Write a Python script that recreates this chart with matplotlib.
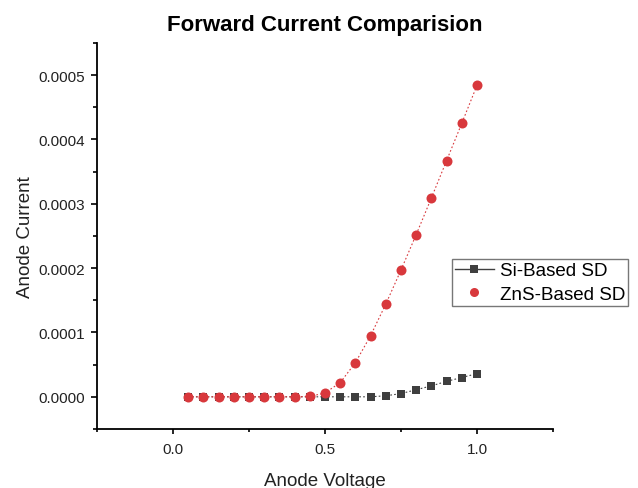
import matplotlib
matplotlib.use("Agg")
import matplotlib.pyplot as plt
from matplotlib.lines import Line2D
from matplotlib.ticker import MultipleLocator, FormatStrFormatter

plt.rcParams['font.family'] = ['Liberation Sans', 'DejaVu Sans']

voltage = [0.05, 0.10, 0.15, 0.20, 0.25, 0.30, 0.35, 0.40, 0.45, 0.50,
           0.55, 0.60, 0.65, 0.70, 0.75, 0.80, 0.85, 0.90, 0.95, 1.00]
si_current = [0, 0, 0, 0, 0, 0, 0, 0, 0, 0,
              0, 0, 0, 0.0000016, 0.000005, 0.000011, 0.000017, 0.000024, 0.00003, 0.000036]
zns_current = [0, 0, 0, 0, 0, 0, 0, 0, 0.0000005, 0.000006,
               0.000022, 0.000053, 0.000095, 0.000144, 0.000197, 0.000252,
               0.000309, 0.000367, 0.000425, 0.000484]

si_color = '#3f3f3f'
zns_color = '#d8383c'
text_color = '#222222'

fig = plt.figure(figsize=(6.38, 4.89), dpi=100)
ax = fig.add_axes([0.152, 0.1207, 0.7147, 0.7894])

ax.plot(voltage, si_current, linestyle=(0, (1.5, 2)), linewidth=0.8, color=si_color,
        marker='s', markersize=5.8, markeredgewidth=0)
ax.plot(voltage, zns_current, linestyle=(0, (1.5, 2)), linewidth=0.8, color=zns_color,
        marker='o', markersize=7.2, markeredgewidth=0)

ax.set_xlim(-0.25, 1.25)
ax.set_ylim(-0.00005, 0.00055)

ax.xaxis.set_major_locator(MultipleLocator(0.5))
ax.xaxis.set_minor_locator(MultipleLocator(0.25))
ax.yaxis.set_major_locator(MultipleLocator(0.0001))
ax.yaxis.set_minor_locator(MultipleLocator(0.00005))
ax.xaxis.set_major_formatter(FormatStrFormatter('%.1f'))
ax.yaxis.set_major_formatter(FormatStrFormatter('%.4f'))

ax.spines['top'].set_visible(False)
ax.spines['right'].set_visible(False)
for s in ('left', 'bottom'):
    ax.spines[s].set_linewidth(1.3)
ax.tick_params(axis='both', which='both', direction='out', width=1.2,
               labelsize=11, labelcolor=text_color)
ax.tick_params(axis='y', which='major', length=4.3, pad=4.3)
ax.tick_params(axis='y', which='minor', length=3)
ax.tick_params(axis='x', which='major', length=3.6, pad=6)
ax.tick_params(axis='x', which='minor', length=2.5)

ax.set_xlabel('Anode Voltage', fontsize=13.5, color=text_color, labelpad=11)
ax.set_ylabel('Anode Current', fontsize=13.5, color=text_color, labelpad=3)
ax.set_title('Forward Current Comparision', fontsize=16, fontweight='bold', pad=9)

handles = [
    Line2D([], [], color=si_color, linestyle='-', linewidth=1.0, marker='s',
           markersize=5.5, markeredgewidth=0),
    Line2D([], [], color=zns_color, linestyle='None', marker='o',
           markersize=6.5, markeredgewidth=0),
]
leg = ax.legend(handles, ['Si-Based SD', 'ZnS-Based SD'], loc='upper left',
                bbox_to_anchor=(0.778, 0.44), fontsize=13.5, frameon=True,
                fancybox=False, edgecolor='#555555', handlelength=2.1,
                handletextpad=0.3, borderpad=0.15, labelspacing=0.35,
                borderaxespad=0)
leg.get_frame().set_linewidth(1.0)

fig.savefig('out.png', dpi=100)
